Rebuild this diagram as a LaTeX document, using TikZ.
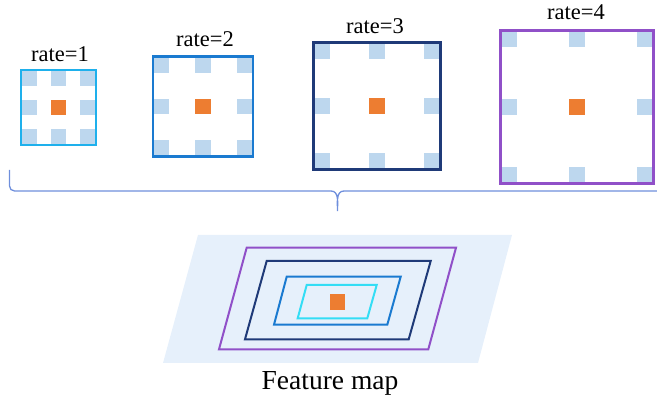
\documentclass[tikz,border=0pt]{standalone}
\usepackage{fontspec}
\setmainfont{Liberation Serif}
\definecolor{cA}{RGB}{30,176,236}
\definecolor{cB}{RGB}{26,122,208}
\definecolor{cC}{RGB}{31,58,120}
\definecolor{cD}{RGB}{144,80,200}
\definecolor{cFA}{RGB}{51,221,245}
\definecolor{tapc}{RGB}{189,215,238}
\definecolor{ctrc}{RGB}{237,125,49}
\definecolor{planec}{RGB}{230,240,251}
\definecolor{bracec}{RGB}{111,143,220}
\begin{document}
\begin{tikzpicture}[x=1pt,y=-1pt,
  kbox/.style={draw, line width=2.4pt, minimum size=#1, inner sep=0pt},
  tapbox/.style={fill=tapc, minimum size=15.5pt, inner sep=0pt},
  ctrbox/.style={fill=ctrc, minimum size=15.5pt, inner sep=0pt},
  lbl/.style={font=\fontsize{22.5}{26}\selectfont, anchor=base, inner sep=0pt},
  flbl/.style={font=\fontsize{27.5}{32}\selectfont, anchor=base, inner sep=0pt},
  ring/.style={line width=2pt},
  bracepath/.style={draw=bracec, line width=1.3pt}]
\useasboundingbox (0,0) rectangle (657,403);
% kernels: name, center x, center y, size, color
\foreach \n/\cx/\cy/\s/\c in {k1/58.5/107.5/75/cA, k2/203/106.5/100/cB, k3/377/106/127/cC, k4/577/107/153/cD}{
  \pgfmathsetmacro{\off}{\s/2-8.5}
  \foreach \i in {0,1,2}{
    \foreach \j in {0,1,2}{
      \pgfmathsetmacro{\px}{\cx+(\i-1)*\off}
      \pgfmathsetmacro{\py}{\cy+(\j-1)*\off}
      \ifnum\i=1 \ifnum\j=1
        \node[ctrbox] (\n-\i\j) at (\px,\py) {};
      \else
        \node[tapbox] (\n-\i\j) at (\px,\py) {};
      \fi\else
        \node[tapbox] (\n-\i\j) at (\px,\py) {};
      \fi
    }
  }
  \node[kbox=\s pt, draw=\c] (\n) at (\cx,\cy) {};
}
\node[lbl] (l1) at (60,61.7) {rate=1};
\node[lbl] (l2) at (205,46.7) {rate=2};
\node[lbl] (l3) at (375,33.3) {rate=3};
\node[lbl] (l4) at (576,20) {rate=4};
% brace
\draw[bracepath] (9.5,170) -- (9.5,186) to[out=270,in=180] (14.5,191) -- (331,191)
  to[out=0,in=90] (337.5,211) to[out=90,in=180] (344,191) -- (660,191);
% feature map plane
\fill[planec] (198,235) -- (512,235) -- (478,363) -- (163,363) -- cycle;
\draw[ring, draw=cD] (246.7,247.7) -- (456,247.7) -- (428.3,349.3) -- (219,349.3) -- cycle;
\draw[ring, draw=cC] (266.7,261) -- (430.7,261) -- (408.7,339.3) -- (245,339.3) -- cycle;
\draw[ring, draw=cB] (286.7,276.7) -- (400.7,276.7) -- (387.3,324.7) -- (274,324.7) -- cycle;
\draw[ring, draw=cFA] (306.7,285) -- (376.7,285) -- (367.3,318.3) -- (297.7,318.3) -- cycle;
\node[ctrbox] (fc) at (337.5,302) {};
\node[flbl] (fm) at (330,390) {Feature map};
\end{tikzpicture}
\end{document}
